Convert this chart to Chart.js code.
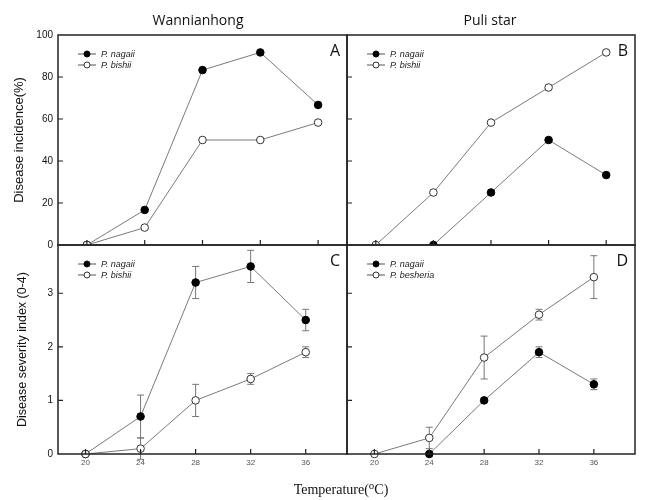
<!DOCTYPE html>
<html>
<head>
<meta charset="utf-8">
<script src="https://cdn.jsdelivr.net/npm/chart.js@4.4.1/dist/chart.umd.min.js"></script>
<style>
  body { margin: 0; background: #fff; }
  #page { position: relative; width: 645px; height: 500px; overflow: hidden; background: #fff; }
  canvas { position: absolute; }
  .head { position: absolute; font-family: "Open Sans", sans-serif; font-size: 14px; line-height: 1; color: #111; transform: translateX(-50%); white-space: nowrap; }
  #xTitle { position: absolute; font-family: "Liberation Serif", serif; font-size: 14px; line-height: 1; color: #111; transform: translateX(-50%); white-space: nowrap; }
  #xTitle sup { font-size: 11px; vertical-align: 5px; line-height: 0; }
</style>
</head>
<body>
<div id="page">
  <canvas id="chartA" width="357" height="250" style="left:0px; top:0px"></canvas>
  <canvas id="chartB" width="308" height="250" style="left:337px; top:0px"></canvas>
  <canvas id="chartC" width="357" height="260" style="left:0px; top:240px"></canvas>
  <canvas id="chartD" width="308" height="260" style="left:337px; top:240px"></canvas>
  <div class="head" style="left:198px; top:13px">Wannianhong</div>
  <div class="head" style="left:490px; top:13px">Puli star</div>
  <div id="xTitle" style="left:341px; top:483px">Temperature(<sup>o</sup>C)</div>
</div>
<script>
// temperatures (°C) and tick labels
const temps = [20, 24, 28, 32, 36];
const xTicks = [20, 24, 28, 32, 36];
const incidenceTicks = [0, 20, 40, 60, 80, 100];
const severityTicks = [0, 1, 2, 3];

// A - Wannianhong, disease incidence (%)
const incNagaiiW = [0, 16.7, 83.3, 91.7, 66.7];
const incBishiiW = [0, 8.3, 50, 50, 58.3];

// B - Puli star, disease incidence (%)
const incNagaiiP = [null, 0, 25, 50, 33.3];
const incBishiiP = [0, 25, 58.3, 75, 91.7];

// C - Wannianhong, severity index (0-4) and error
const sevNagaiiW = [0, 0.7, 3.2, 3.5, 2.5];
const sevNagaiiWErr = [0, 0.4, 0.3, 0.3, 0.2];
const sevBishiiW = [0, 0.1, 1.0, 1.4, 1.9];
const sevBishiiWErr = [0, 0.2, 0.3, 0.1, 0.1];

// D - Puli star, severity index (0-4) and error
const sevNagaiiP = [null, 0, 1.0, 1.9, 1.3];
const sevNagaiiPErr = [0, 0, 0, 0.1, 0.1];
const sevBesheriaP = [0, 0.3, 1.8, 2.6, 3.3];
const sevBesheriaPErr = [0, 0.2, 0.4, 0.1, 0.4];

const SANS = '"Liberation Sans", Arial, sans-serif';

function pts(ys) {
  return temps.map((t, i) => ({ x: t, y: ys[i] }));
}

function filledSet(label, ys, errs) {
  return {
    label: label, data: pts(ys), errors: errs, filled: true, order: 1,
    showLine: true, borderColor: '#7a7a7a', borderWidth: 1,
    pointRadius: 3.8, pointBackgroundColor: '#000', pointBorderColor: '#000', pointBorderWidth: 1
  };
}

function openSet(label, ys, errs) {
  return {
    label: label, data: pts(ys), errors: errs, filled: false, order: 0,
    showLine: true, borderColor: '#7a7a7a', borderWidth: 1,
    pointRadius: 3.8, pointBackgroundColor: '#fff', pointBorderColor: '#333', pointBorderWidth: 1
  };
}

// frame, inward ticks, error bars, panel letter and legend
const panelFrame = {
  id: 'panelFrame',
  beforeDatasetsDraw(chart) {
    const ctx = chart.ctx;
    const xs = chart.scales.x, ys = chart.scales.y;
    ctx.save();
    ctx.strokeStyle = '#777';
    ctx.lineWidth = 1;
    chart.data.datasets.forEach(ds => {
      if (!ds.errors) return;
      ds.data.forEach((p, j) => {
        const e = ds.errors[j];
        if (p.y == null || !e) return;
        const x = xs.getPixelForValue(p.x);
        const y1 = ys.getPixelForValue(p.y + e);
        const y2 = ys.getPixelForValue(p.y - e);
        ctx.beginPath();
        ctx.moveTo(x, y1); ctx.lineTo(x, y2);
        ctx.moveTo(x - 3.5, y1); ctx.lineTo(x + 3.5, y1);
        ctx.moveTo(x - 3.5, y2); ctx.lineTo(x + 3.5, y2);
        ctx.stroke();
      });
    });
    ctx.restore();
  },
  afterDraw(chart, args, opts) {
    const ctx = chart.ctx;
    const a = chart.chartArea;
    const xs = chart.scales.x, ys = chart.scales.y;
    ctx.save();
    ctx.strokeStyle = '#222';
    ctx.lineWidth = 1.5;
    ctx.strokeRect(a.left, a.top, a.right - a.left, a.bottom - a.top);
    ctx.lineWidth = 1.2;
    ctx.beginPath();
    xs.ticks.forEach(t => {
      const px = xs.getPixelForValue(t.value);
      ctx.moveTo(px, a.bottom); ctx.lineTo(px, a.bottom - 5);
    });
    ys.ticks.forEach(t => {
      if (t.value <= ys.min || t.value >= ys.max) return;
      const py = ys.getPixelForValue(t.value);
      ctx.moveTo(a.left, py); ctx.lineTo(a.left + 5, py);
    });
    ctx.stroke();

    // panel letter
    ctx.fillStyle = '#111';
    ctx.font = '16px "Open Sans", sans-serif';
    ctx.textAlign = 'right';
    ctx.textBaseline = 'middle';
    ctx.fillText(opts.letter, a.right - 7, a.top + 16);

    // legend
    ctx.font = 'italic 9px ' + SANS;
    ctx.textAlign = 'left';
    chart.data.datasets.forEach((ds, i) => {
      const y = a.top + 19 + i * 11;
      ctx.strokeStyle = '#555';
      ctx.lineWidth = 1;
      ctx.beginPath();
      ctx.moveTo(a.left + 20, y); ctx.lineTo(a.left + 38, y);
      ctx.stroke();
      ctx.beginPath();
      ctx.arc(a.left + 29, y, 3, 0, Math.PI * 2);
      ctx.fillStyle = ds.filled ? '#000' : '#fff';
      ctx.fill();
      ctx.strokeStyle = ds.filled ? '#000' : '#333';
      ctx.stroke();
      ctx.fillStyle = '#222';
      ctx.fillText(ds.label, a.left + 43, y);
    });
    ctx.restore();
  }
};

function makePanel(id, cfg) {
  return new Chart(document.getElementById(id), {
    type: 'scatter',
    data: { datasets: cfg.datasets },
    options: {
      responsive: false,
      animation: false,
      layout: { padding: cfg.padding },
      datasets: { scatter: { clip: cfg.clip } },
      plugins: {
        legend: { display: false },
        tooltip: { enabled: false },
        panelFrame: { letter: cfg.letter }
      },
      scales: {
        x: {
          type: 'linear', min: 18, max: cfg.xMax,
          afterBuildTicks: s => { s.ticks = xTicks.map(v => ({ value: v })); },
          afterFit: s => { s.height = cfg.xHeight; s.paddingLeft = 0; s.paddingRight = 0; },
          grid: { display: false, drawTicks: false },
          border: { display: false },
          ticks: { display: cfg.showX, padding: 4, color: '#555', font: { family: SANS, size: 8 } }
        },
        y: {
          min: 0, max: cfg.yMax,
          afterBuildTicks: s => { s.ticks = cfg.yTicks.map(v => ({ value: v })); },
          afterFit: s => { s.width = cfg.yWidth; s.paddingTop = 0; s.paddingBottom = 0; },
          grid: { display: false, drawTicks: false },
          border: { display: false },
          ticks: { display: !!cfg.yTitle, padding: 5, color: '#111', font: { family: SANS, size: 10 } },
          title: {
            display: !!cfg.yTitle, text: cfg.yTitle || '', color: '#111',
            font: { family: SANS, size: cfg.yTitleSize || 13 },
            padding: { top: cfg.yTitlePad || 12, bottom: 0 }
          }
        }
      }
    },
    plugins: [panelFrame]
  });
}

makePanel('chartA', {
  datasets: [filledSet('P. nagaii', incNagaiiW), openSet('P. bishii', incBishiiW)],
  letter: 'A', padding: { top: 35, right: 10, left: 0, bottom: 0 },
  xMax: 38, xHeight: 5, showX: false, clip: undefined,
  yMax: 100, yTicks: incidenceTicks, yWidth: 58,
  yTitle: 'Disease incidence(%)', yTitleSize: 13, yTitlePad: 12
});

makePanel('chartB', {
  datasets: [filledSet('P. nagaii', incNagaiiP), openSet('P. bishii', incBishiiP)],
  letter: 'B', padding: { top: 35, right: 10, left: 10, bottom: 0 },
  xMax: 38, xHeight: 5, showX: false, clip: undefined,
  yMax: 100, yTicks: incidenceTicks, yWidth: 0
});

makePanel('chartC', {
  datasets: [filledSet('P. nagaii', sevNagaiiW, sevNagaiiWErr), openSet('P. bishii', sevBishiiW, sevBishiiWErr)],
  letter: 'C', padding: { top: 5, right: 10, left: 0, bottom: 0 },
  xMax: 39, xHeight: 46, showX: true, clip: false,
  yMax: 3.9, yTicks: severityTicks, yWidth: 58,
  yTitle: 'Disease severity index (0-4)', yTitleSize: 12.5, yTitlePad: 15
});

makePanel('chartD', {
  datasets: [filledSet('P. nagaii', sevNagaiiP, sevNagaiiPErr), openSet('P. besheria', sevBesheriaP, sevBesheriaPErr)],
  letter: 'D', padding: { top: 5, right: 10, left: 10, bottom: 0 },
  xMax: 39, xHeight: 46, showX: true, clip: false,
  yMax: 3.9, yTicks: severityTicks, yWidth: 0
});
</script>
</body>
</html>
